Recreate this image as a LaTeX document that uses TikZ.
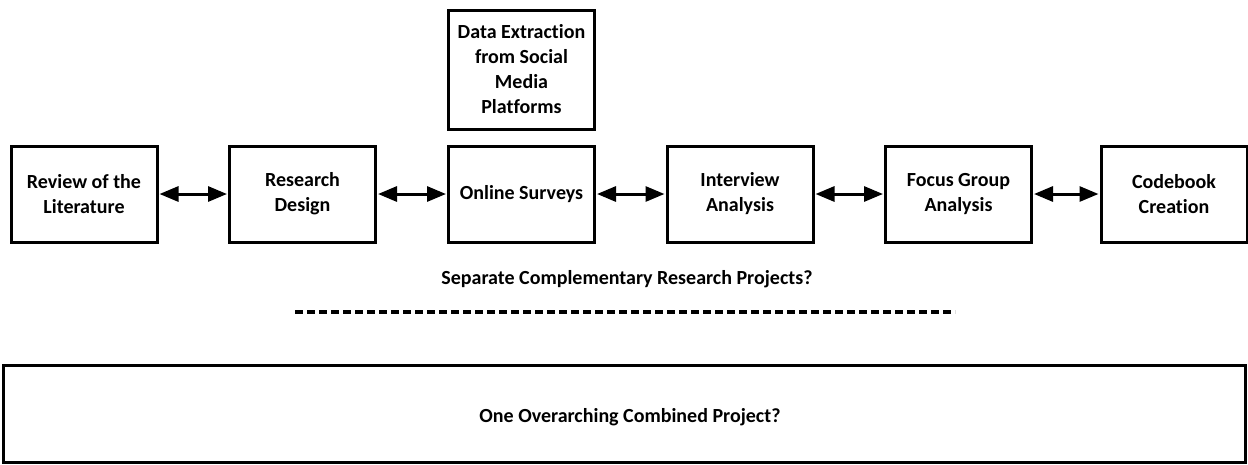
\documentclass[tikz,border=0pt]{standalone}
\usepackage{fontspec}
\setmainfont[Ligatures=NoCommon]{Carlito}
\usetikzlibrary{arrows.meta}
\begin{document}
\begin{tikzpicture}[x=1pt,y=-1pt,
  box/.style={draw,line width=3pt,minimum width=146pt,minimum height=96pt,align=center,font=\bfseries\fontsize{20}{25}\selectfont,inner sep=2pt},
  link/.style={line width=3pt,{Triangle[length=19pt,width=15pt]}-{Triangle[length=19pt,width=15pt]},shorten <=1pt,shorten >=1pt},
  lbl/.style={font=\bfseries\fontsize{20}{24}\selectfont}]
\useasboundingbox (0,0) rectangle (1248,464);
\node[box] (b1) at (84,194) {Review of the\\Literature};
\node[box] (b2) at (302.5,194) {Research\\Design};
\node[box] (b3) at (521.5,194) {Online Surveys};
\node[box] (b4) at (740,194) {Interview\\Analysis};
\node[box] (b5) at (958.5,194) {Focus Group\\Analysis};
\node[box] (b6) at (1174,194) {Codebook\\Creation};
\node[box,minimum height=119pt] (d) at (521.5,69.5) {Data Extraction\\from Social\\Media\\Platforms};
\draw[link] (b1.east) -- (b2.west);
\draw[link] (b2.east) -- (b3.west);
\draw[link] (b3.east) -- (b4.west);
\draw[link] (b4.east) -- (b5.west);
\draw[link] (b5.east) -- (b6.west);
\node[lbl] (sep) at (627,279) {Separate Complementary Research Projects?};
\coordinate (dl) at (295,312);
\coordinate (dr) at (955,312);
\draw[line width=3.5pt,dash pattern=on 8pt off 4pt] (dl) -- (dr);
\node[draw,line width=3pt,minimum width=1242pt,minimum height=97pt] (big) at (624.5,414) {};
\node[lbl] (bigt) at (630,417) {One Overarching Combined Project?};
\end{tikzpicture}
\end{document}
